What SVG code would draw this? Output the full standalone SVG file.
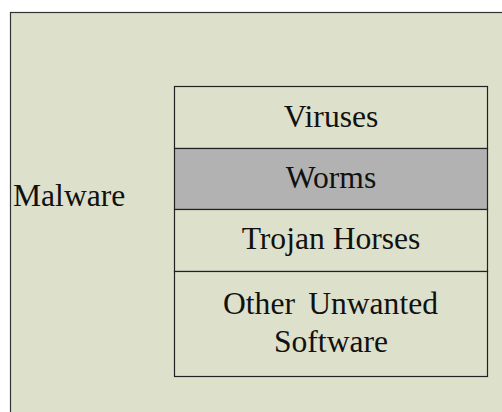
<svg xmlns="http://www.w3.org/2000/svg" width="502" height="412" viewBox="0 0 502 412">
<style>
text{font-family:'Liberation Serif','Times New Roman',serif;font-size:31.6px;fill:#111;}
.box{fill:#DDE0CB;stroke:#222;stroke-width:1.2;}
.c{text-anchor:middle;}
</style>
<rect x="0" y="0" width="502" height="412" fill="#fff"/>
<g id="malware">
<rect x="10.5" y="12.5" width="500" height="410" fill="#DDE0CB" stroke="#333" stroke-width="1.2"/>
<text x="13" y="206">Malware</text>
</g>
<g id="viruses">
<rect class="box" x="174.5" y="86.5" width="313" height="62"/>
<text class="c" x="331" y="127">Viruses</text>
</g>
<g id="worms">
<rect class="box" x="174.5" y="148.5" width="313" height="61" style="fill:#B2B2B2"/>
<text class="c" x="331" y="188">Worms</text>
</g>
<g id="trojan">
<rect class="box" x="174.5" y="209.5" width="313" height="62"/>
<text class="c" x="331" y="249">Trojan Horses</text>
</g>
<g id="other">
<rect class="box" x="174.5" y="271.5" width="313" height="105"/>
<text x="223" y="314">Other</text>
<text x="438" y="314" text-anchor="end">Unwanted</text>
<text class="c" x="331" y="352">Software</text>
</g>
<g id="connectors"></g>
</svg>
